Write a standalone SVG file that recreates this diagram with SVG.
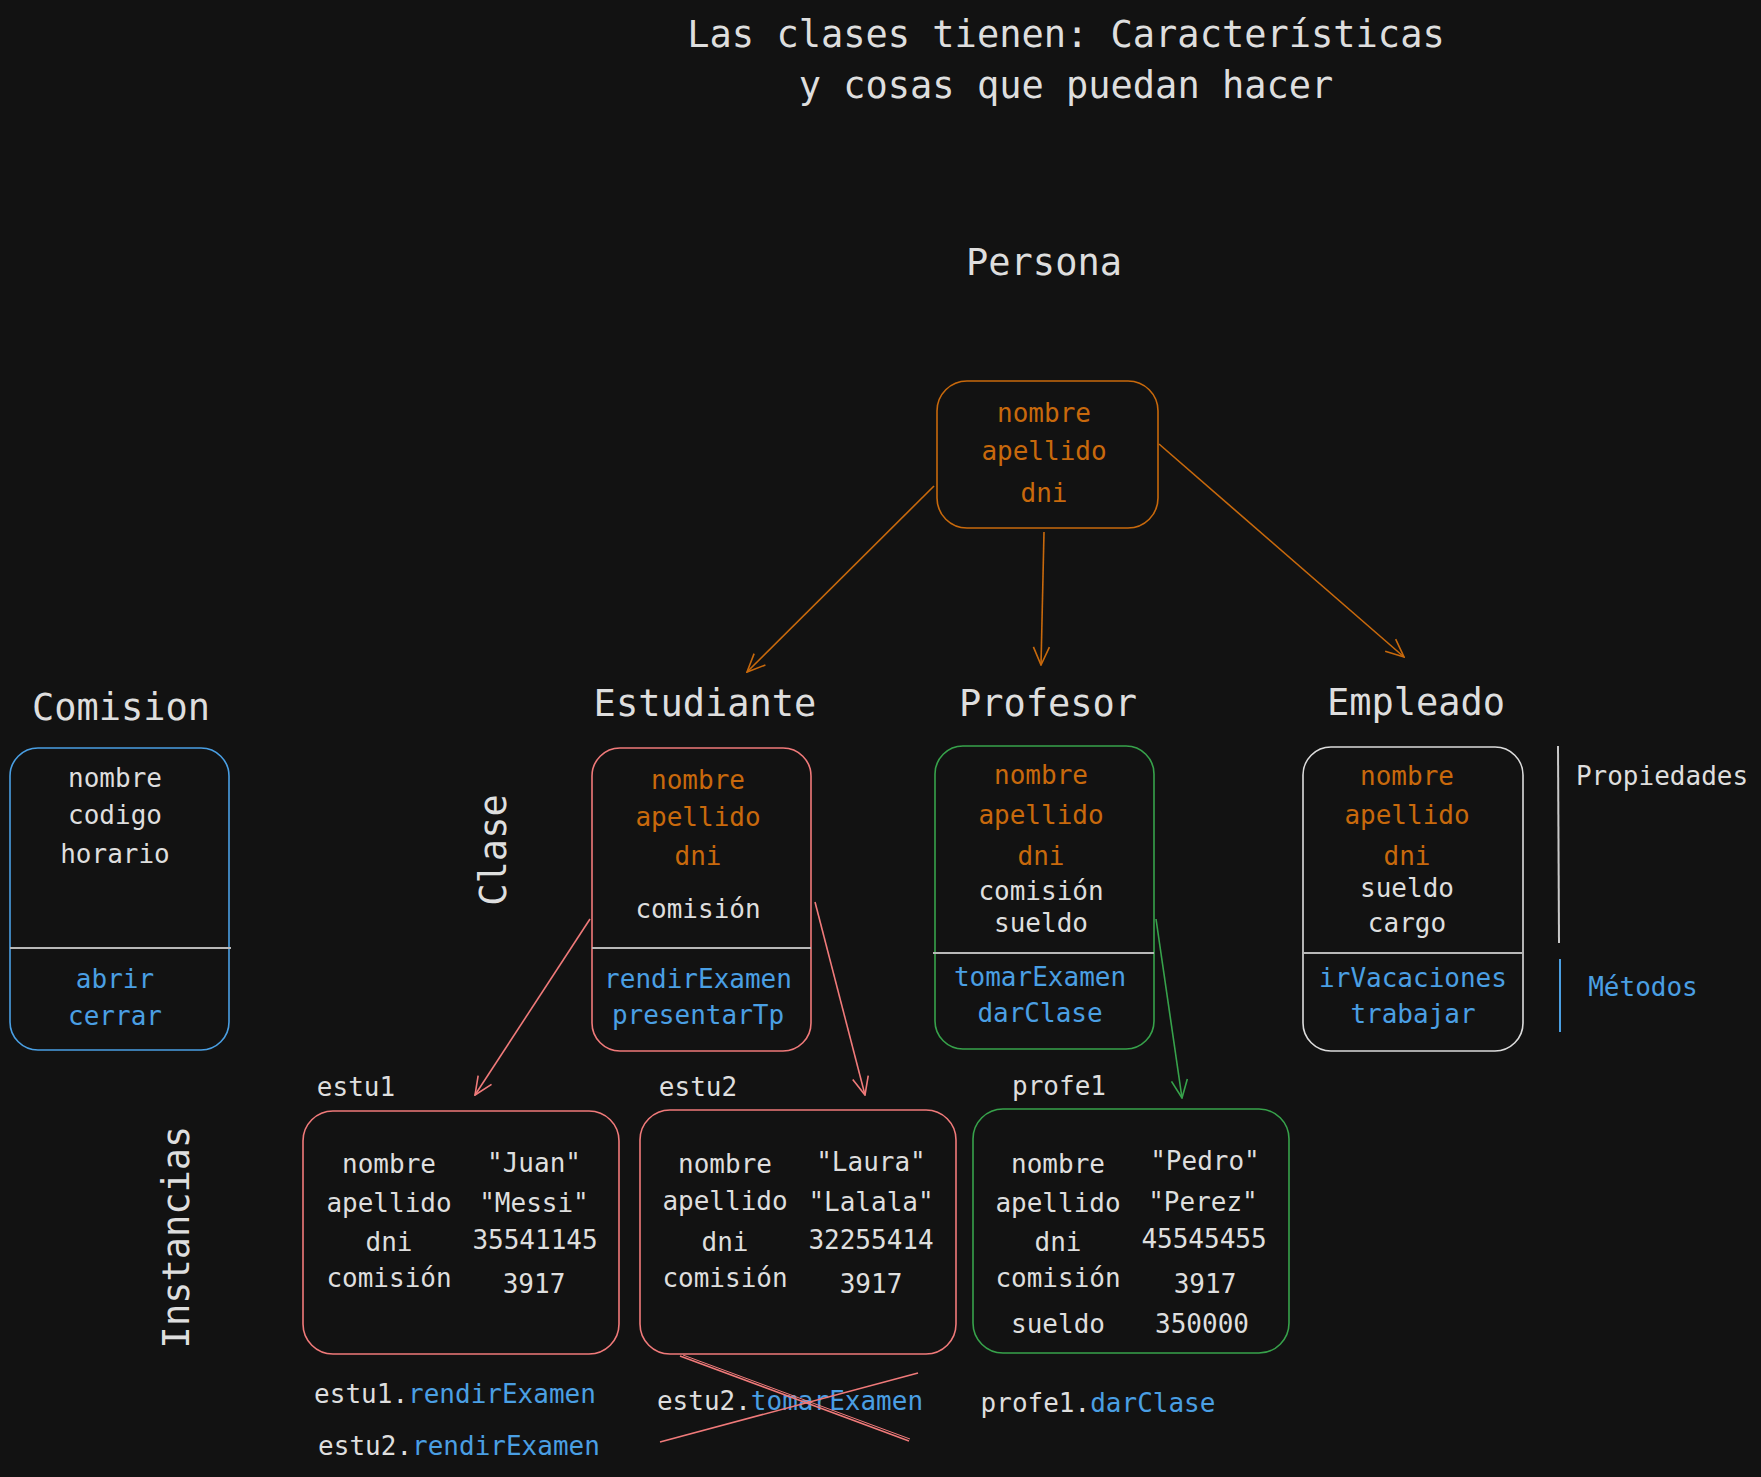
<svg xmlns="http://www.w3.org/2000/svg" width="1761" height="1477" viewBox="0 0 1761 1477">
<style>
text{font-family:"DejaVu Sans Mono","Liberation Mono",monospace;fill:#dedede;text-anchor:middle}
.h{font-size:37px}
.s{font-size:26px}
.o{fill:#c8690c}
.b{fill:#4a9fe3}
.box{fill:none;stroke-width:1.6}
.div{stroke:#b8b8b8;stroke-width:2}
.conn path{fill:none;stroke-width:1.6}
</style>
<defs>
<marker id="ao" viewBox="0 0 20 20" refX="19" refY="10" markerWidth="20" markerHeight="20" markerUnits="userSpaceOnUse" orient="auto"><path d="M1,2 L19,10 L1,18" fill="none" stroke="#c8690c" stroke-width="1.6"/></marker>
<marker id="ar" viewBox="0 0 20 20" refX="19" refY="10" markerWidth="20" markerHeight="20" markerUnits="userSpaceOnUse" orient="auto"><path d="M1,2 L19,10 L1,18" fill="none" stroke="#f07a7a" stroke-width="1.6"/></marker>
<marker id="ag" viewBox="0 0 20 20" refX="19" refY="10" markerWidth="20" markerHeight="20" markerUnits="userSpaceOnUse" orient="auto"><path d="M1,2 L19,10 L1,18" fill="none" stroke="#37a24b" stroke-width="1.6"/></marker>
</defs>
<rect width="1761" height="1477" fill="#121212"/>

<g id="title">
<text class="h" x="1066" y="47">Las clases tienen: Características</text>
<text class="h" x="1066" y="98">y cosas que puedan hacer</text>
</g>

<g id="persona">
<text class="h" x="1044" y="275">Persona</text>
<rect class="box" x="937" y="381" width="221" height="147" rx="30" stroke="#c8690c"/>
<text class="s o" x="1044" y="422">nombre</text>
<text class="s o" x="1044" y="460">apellido</text>
<text class="s o" x="1044" y="502">dni</text>
</g>

<g id="comision">
<text class="h" x="121" y="720">Comision</text>
<rect class="box" x="10" y="748" width="219" height="302" rx="28" stroke="#4a9fe3"/>
<line class="div" x1="10" y1="948" x2="231" y2="948"/>
<text class="s" x="115" y="787">nombre</text>
<text class="s" x="115" y="824">codigo</text>
<text class="s" x="115" y="863">horario</text>
<text class="s b" x="115" y="988">abrir</text>
<text class="s b" x="115" y="1025">cerrar</text>
</g>

<g id="clase-label">
<text class="h" transform="translate(506,850) rotate(-90)">Clase</text>
</g>

<g id="estudiante">
<text class="h" x="705" y="716">Estudiante</text>
<rect class="box" x="592" y="748" width="219" height="303" rx="28" stroke="#f07a7a"/>
<line class="div" x1="592" y1="948" x2="811" y2="948"/>
<text class="s o" x="698" y="789">nombre</text>
<text class="s o" x="698" y="826">apellido</text>
<text class="s o" x="698" y="865">dni</text>
<text class="s" x="698" y="918">comisión</text>
<text class="s b" x="698" y="988">rendirExamen</text>
<text class="s b" x="698" y="1024">presentarTp</text>
</g>

<g id="profesor">
<text class="h" x="1048" y="716">Profesor</text>
<rect class="box" x="935" y="746" width="219" height="303" rx="28" stroke="#37a24b"/>
<line class="div" x1="933" y1="953" x2="1154" y2="953"/>
<text class="s o" x="1041" y="784">nombre</text>
<text class="s o" x="1041" y="824">apellido</text>
<text class="s o" x="1041" y="865">dni</text>
<text class="s" x="1041" y="900">comisión</text>
<text class="s" x="1041" y="932">sueldo</text>
<text class="s b" x="1040" y="986">tomarExamen</text>
<text class="s b" x="1040" y="1022">darClase</text>
</g>

<g id="empleado">
<text class="h" x="1416" y="715">Empleado</text>
<rect class="box" x="1303" y="747" width="220" height="304" rx="28" stroke="#dcdcdc"/>
<line class="div" x1="1302" y1="953" x2="1522" y2="953"/>
<text class="s o" x="1407" y="785">nombre</text>
<text class="s o" x="1407" y="824">apellido</text>
<text class="s o" x="1407" y="865">dni</text>
<text class="s" x="1407" y="897">sueldo</text>
<text class="s" x="1407" y="932">cargo</text>
<text class="s b" x="1413" y="987">irVacaciones</text>
<text class="s b" x="1413" y="1023">trabajar</text>
</g>

<g id="legend">
<line x1="1558" y1="746" x2="1559" y2="943" stroke="#c8c8c8" stroke-width="2"/>
<text class="s" x="1662" y="785">Propiedades</text>
<line x1="1560" y1="959" x2="1560" y2="1032" stroke="#4a9fe3" stroke-width="2"/>
<text class="s b" x="1643" y="996">Métodos</text>
</g>

<g id="instancias-label">
<text class="h" transform="translate(189,1237) rotate(-90)">Instancias</text>
</g>

<g id="estu1">
<text class="s" x="356" y="1096">estu1</text>
<rect class="box" x="303" y="1111" width="316" height="243" rx="30" stroke="#f07a7a"/>
<text class="s" x="389" y="1173">nombre</text>
<text class="s" x="389" y="1212">apellido</text>
<text class="s" x="389" y="1251">dni</text>
<text class="s" x="389" y="1287">comisión</text>
<text class="s" x="534" y="1172">"Juan"</text>
<text class="s" x="534" y="1212">"Messi"</text>
<text class="s" x="535" y="1249">35541145</text>
<text class="s" x="534" y="1293">3917</text>
</g>

<g id="estu2">
<text class="s" x="698" y="1096">estu2</text>
<rect class="box" x="640" y="1110" width="316" height="244" rx="30" stroke="#f07a7a"/>
<text class="s" x="725" y="1173">nombre</text>
<text class="s" x="725" y="1210">apellido</text>
<text class="s" x="725" y="1251">dni</text>
<text class="s" x="725" y="1287">comisión</text>
<text class="s" x="871" y="1171">"Laura"</text>
<text class="s" x="871" y="1211">"Lalala"</text>
<text class="s" x="871" y="1249">32255414</text>
<text class="s" x="871" y="1293">3917</text>
</g>

<g id="profe1">
<text class="s" x="1059" y="1095">profe1</text>
<rect class="box" x="973" y="1109" width="316" height="244" rx="30" stroke="#37a24b"/>
<text class="s" x="1058" y="1173">nombre</text>
<text class="s" x="1058" y="1212">apellido</text>
<text class="s" x="1058" y="1251">dni</text>
<text class="s" x="1058" y="1287">comisión</text>
<text class="s" x="1058" y="1333">sueldo</text>
<text class="s" x="1205" y="1170">"Pedro"</text>
<text class="s" x="1203" y="1211">"Perez"</text>
<text class="s" x="1204" y="1248">45545455</text>
<text class="s" x="1205" y="1293">3917</text>
<text class="s" x="1202" y="1333">350000</text>
</g>

<g id="calls">
<text class="s" x="455" y="1403">estu1.<tspan class="b">rendirExamen</tspan></text>
<text class="s" x="459" y="1455">estu2.<tspan class="b">rendirExamen</tspan></text>
<text class="s" x="790" y="1410">estu2.<tspan class="b">tomarExamen</tspan></text>
<text class="s" x="1098" y="1412">profe1.<tspan class="b">darClase</tspan></text>
<line x1="680" y1="1356" x2="909" y2="1441" stroke="#f07a7a" stroke-width="1.6"/>
<line x1="683" y1="1355" x2="910" y2="1439" stroke="#f07a7a" stroke-width="1"/>
<line x1="660" y1="1442" x2="918" y2="1373" stroke="#f07a7a" stroke-width="1.6"/>
</g>

<g id="connectors" class="conn">
<path d="M934,486 L747,672" stroke="#c8690c" marker-end="url(#ao)"/>
<path d="M1044,532 L1041,665" stroke="#c8690c" marker-end="url(#ao)"/>
<path d="M1159,444 L1404,657" stroke="#c8690c" marker-end="url(#ao)"/>
<path d="M590,919 L475,1095" stroke="#f07a7a" marker-end="url(#ar)"/>
<path d="M815,902 L865,1095" stroke="#f07a7a" marker-end="url(#ar)"/>
<path d="M1156,919 L1182,1098" stroke="#37a24b" marker-end="url(#ag)"/>
</g>
</svg>
